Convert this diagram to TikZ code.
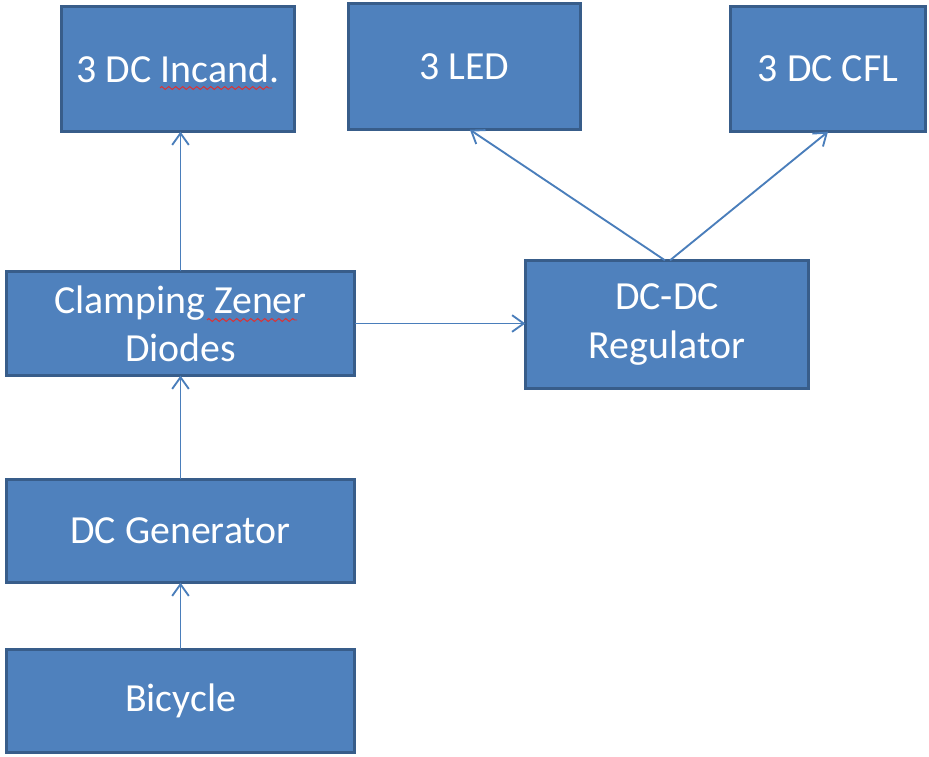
\documentclass[tikz,border=0pt]{standalone}
\usepackage{fontspec}
\setmainfont{Carlito}
\usepackage{tikz}
\usetikzlibrary{arrows.meta,%
                decorations.pathmorphing,positioning}
\definecolor{boxfill}{HTML}{4F81BD}
\definecolor{boxline}{HTML}{385D8A}
\definecolor{linkcol}{HTML}{4A7EBB}
\definecolor{spellred}{HTML}{E03030}

\begin{document}
\begin{tikzpicture}[x=0.3mm,y=-0.3mm,
  block/.style={draw=boxline,fill=boxfill,line width=2.6pt,text=white,
    font=\fontsize{34}{41}\selectfont,align=center,inner sep=0pt,outer sep=0pt},
  link/.style={draw=linkcol,line width=1.6pt,-{Straight Barb[length=3.5mm,width=5mm]}},
  spell/.style={draw=spellred,line width=0.8pt,decorate,
    decoration={zigzag,segment length=2.1mm,amplitude=0.45mm}}]
\useasboundingbox (0,0) rectangle (929,757);
%\draw[help lines] (0,0) grid (929,757);
\node[block,minimum width=69.7mm,minimum height=37.6mm] (incand) at (178,69) {3 DC Incand.};
\node[block,minimum width=69.7mm,minimum height=37.9mm] (led) at (464.5,66.5) {3 LED};
\node[block,minimum width=58.6mm,minimum height=37.6mm] (cfl) at (828,69) {3 DC CFL};
\node[block,minimum width=104.5mm,minimum height=31.3mm] (zener) at (180.5,323.5) {Clamping Zener\\Diodes};
\node[block,minimum width=85mm,minimum height=38.5mm] (dcdc) at (667,324.5) {DC-DC\\Regulator};
\node[block,minimum width=104.5mm,minimum height=31mm] (gen) at (180.5,531) {DC Generator};
\node[block,minimum width=104.5mm,minimum height=31mm] (bike) at (180.5,701) {Bicycle};
\draw[link] (bike.north) -- (gen.south);
\draw[link] (gen.north) -- (zener.south);
\draw[link] (zener.north) -- (zener.north |- incand.south);
\draw[link] (zener.east) -- (zener.east -| dcdc.west);
\draw[link] ([xshift=-0.6mm]dcdc.north) -- ([xshift=1.6mm]led.south);
\draw[link] ([xshift=0.9mm]dcdc.north) -- (cfl.south);
\draw[spell] (160,88) -- (272,88);
\draw[spell] (207,320) -- (297,320);
\end{tikzpicture}
\end{document}
